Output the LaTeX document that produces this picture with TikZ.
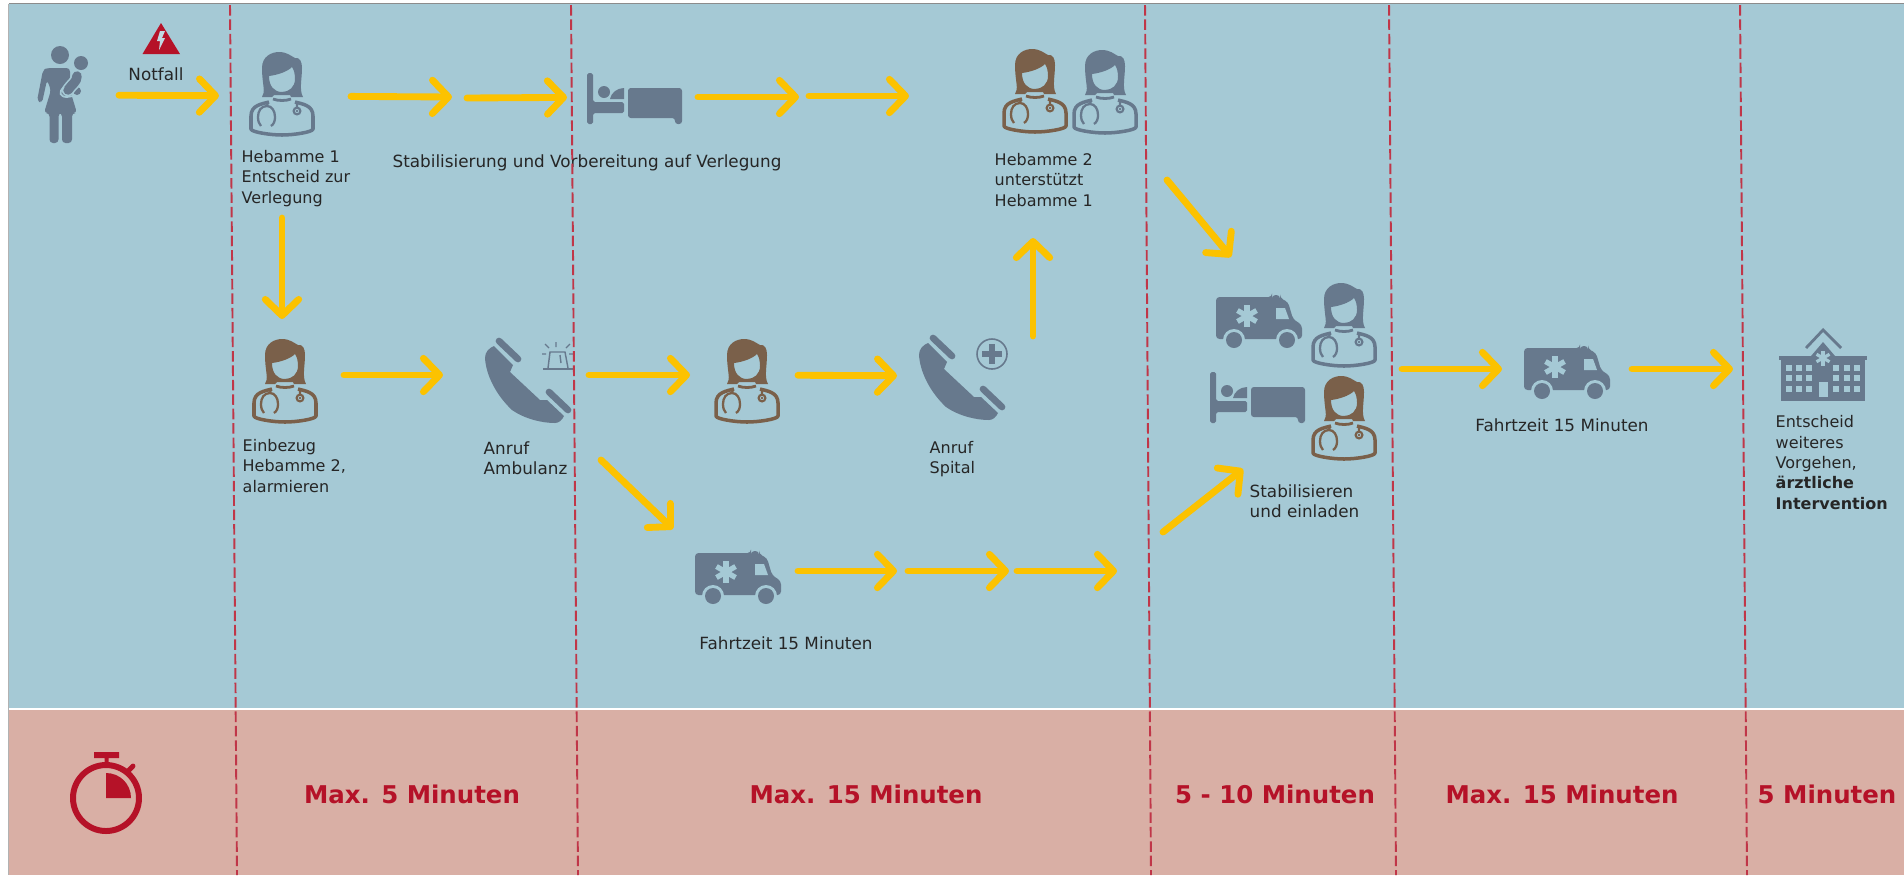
\documentclass[tikz,border=0pt]{standalone}
\usepackage{fontspec}
\setmainfont{DejaVu Sans}
\usetikzlibrary{arrows.meta}
\definecolor{panelblue}{RGB}{165,201,213}
\definecolor{panelred}{RGB}{217,175,165}
\definecolor{iconslate}{RGB}{103,121,141}
\definecolor{iconbrown}{RGB}{122,96,74}
\definecolor{flowyellow}{RGB}{252,194,0}
\definecolor{alarmred}{RGB}{181,18,40}
\tikzset{
  flow/.style={draw=flowyellow, line width=1.95pt, line cap=round, -{Straight Barb[length=4.6pt,width=9.5pt,round]}},
  phase/.style={draw=alarmred!85, line width=0.55pt, dash pattern=on 3pt off 1.1pt},
  iconbox/.style 2 args={minimum width=#1*0.01cm, minimum height=#2*0.01cm, inner sep=0pt, outer sep=0pt},
  lbl/.style={font=\fontsize{4.55}{5.8}\selectfont, align=left, inner sep=0pt, text=black!85},
  lblwide/.style={lbl, font=\fontsize{4.78}{5.8}\selectfont},
  limit/.style={font=\fontsize{6.95}{8}\selectfont\bfseries, inner sep=0pt, text=alarmred},
  pics/doctor/.style={code={
    \fill [#1, even odd rule] (-20,3) .. controls (-16,-2) and (-20,-10) .. (-20,-26)
      .. controls (-20,-38) and (-10,-42) .. (-3,-42) .. controls (5,-42) and (9,-38) .. (13,-36)
      .. controls (18,-37) and (20,-32) .. (20,-26) .. controls (20,-15) and (17,-4) .. (21,3)
      -- (9,3) -- (8,1) -- (-8,1) -- (-10,3) -- cycle
      (-13,-18) .. controls (-5,-19) and (5,-22) .. (10,-27) .. controls (12,-24) and (13,-20) .. (13,-15)
      .. controls (13,-7) and (7,-2) .. (0,-2) .. controls (-8,-2) and (-13,-8) .. (-13,-18) -- cycle;
    \draw [#1, line width=0.8pt] (-9,5) .. controls (-4,7) and (4,7) .. (9,5);
    \draw [#1, line width=1pt, line join=round] (-13,8) .. controls (-20,10) and (-31,11) .. (-31,22)
      -- (-31,35) .. controls (-31,38) and (-12,41) .. (0,41) .. controls (12,41) and (31,38) .. (31,35)
      -- (31,22) .. controls (31,11) and (20,10) .. (13,8);
    \draw [#1, line width=0.65pt] (-14,8) -- (-15,12) .. controls (-21,12) and (-24,17) .. (-24,23)
      .. controls (-24,27) and (-23,30) .. (-21,32) (-15,12) .. controls (-10,12) and (-7,17) .. (-7,23)
      .. controls (-7,27) and (-8,30) .. (-11,32) (15,7) -- (15,14);
    \draw [#1, line width=0.6pt] (15,17) circle (3.4);
    \fill [#1] (15,17) circle (1.3);
  }},
  pics/ambulance/.style={code={
    \fill [iconslate, rounded corners=1pt] (-43,-25) -- (13,-25) -- (13,-27) -- (21,-27) -- (21,-24)
      -- (29,-20) -- (34,-3) -- (43,3) -- (43,17) -- (-43,17) -- cycle;
    \foreach \w in {-25,28} {
      \fill [panelblue] (\w,18) circle (11);
      \fill [iconslate] (\w,18) circle (8);
    }
    \fill [panelblue] (17,-14) -- (26,-14) -- (30,-3) -- (17,-3) -- cycle;
    \foreach \a in {30,90,150} {
      \draw [panelblue, line width=1.5pt] (-12,-6) ++(\a:11) -- ++(\a+180:22);
    }
  }},
  pics/bed/.style={code={
    \fill [iconslate, rounded corners=0.5pt] (-47,-25) -- (-41,-25) -- (-41,4) -- (-10,4) -- (-10,15)
      -- (-41,15) -- (-41,26) -- (-47,26) -- cycle;
    \fill [iconslate] (-30,-6) circle (6);
    \fill [iconslate] (-10,-10) -- (-10,1) -- (-24,1) .. controls (-23,-5) and (-17,-10) .. (-10,-10) -- cycle;
    \fill [iconslate, rounded corners=0.8pt] (-6,-10) -- (48,-10) -- (48,26) -- (41,26) -- (41,20) -- (-6,20) -- cycle;
  }},
  pics/phone/.style={code={
    \fill [iconslate] (-33,-35) .. controls (-38,-33) and (-42,-29) .. (-42,-23) .. controls (-41,-6) and (-31,14) .. (-15,29)
      .. controls (-2,38) and (15,42) .. (28,42) .. controls (32,42) and (35,39) .. (37,35)
      -- (20,19) -- (13,19) -- (-17,-9) -- (-14,-16) -- cycle;
    \draw [iconslate, line width=1.9pt, line cap=round] (-28,-40) -- (-9,-22) (22,11) -- (41,29);
  }},
  pics/siren/.style={code={
    \draw [iconslate, line width=0.7pt] (-15,9) -- (15,9);
    \draw [iconslate, line width=0.4pt] (-10,8) -- (-8,-8) -- (7,-8) -- (10,8) (2,-5) -- (3,3);
    \draw [iconslate, line width=0.35pt] (-2,-18) -- (-2,-13) (-13,-16) -- (-9,-12) (12,-16) -- (8,-12) (-16,-6) -- (-12,-6) (15,-6) -- (11,-6);
  }},
  pics/hospital/.style={code={
    \fill [iconslate] (-42,-5) -- (42,-5) -- (42,36) -- (-42,36) -- cycle;
    \fill [iconslate] (-44,-9) -- (44,-9) -- (44,-5) -- (-44,-5) -- cycle;
    \fill [iconslate] (-12,-9) -- (0,-23) -- (12,-9) -- cycle;
    \draw [iconslate, line width=0.8pt] (-17,-17) -- (0,-35) -- (18,-17);
    \foreach \a in {30,90,150} {
      \draw [panelblue, line width=0.9pt] (0,-7) ++(\a:7.5) -- ++(\a+180:15);
    }
    \foreach \wx in {-37,-27,-17,10,21,31} {
      \foreach \wy in {0,10,21} {
        \fill [panelblue] (\wx,\wy) rectangle ++(6,6);
      }
    }
    \fill [panelblue] (-4,17) rectangle (5,32);
  }},
}
\begin{document}
\begin{tikzpicture}[x=0.01cm,y=-0.01cm]
  \useasboundingbox (0,0) rectangle (1904,875);

  % panels
  \fill [panelblue] (8.5,4) rectangle (1904,708);
  \fill [panelred] (8.5,710) rectangle (1904,875);
  \draw [black!45, line width=0.4pt] (8.5,3.5) -- (1904,3.5);
  \draw [black!30, line width=0.3pt] (8.5,4) -- (8.5,875);

  % anchors of the arrows
  \node [iconbox={98}{60}] (mother) at (70,95) {};
  \node [iconbox={132}{60}] (hebamme1) at (285,96) {};
  \node [iconbox={131}{60}] (bedtop) at (632.5,97) {};
  \node [iconbox={124}{112}] (hebamme2) at (282,375) {};
  \node [iconbox={146}{60}] (ambulanzcall) at (516,375) {};
  \node [iconbox={108}{60}] (hebamme2b) at (744,375) {};
  \node [iconbox={126}{60}] (spitalcall) at (960,376) {};
  \node [iconbox={125}{84}] (ambulance1) at (735.5,571) {};
  \node [iconbox={56}{130}] (ambulance2) at (1259,322) {};
  \node [iconbox={28}{144}] (bedright) at (1257,397) {};
  \node [iconbox={116}{60}] (crew) at (1344,369) {};
  \node [iconbox={130}{60}] (ambulance3) at (1567,369) {};
  \node [iconbox={180}{60}] (hospital) at (1823,369) {};

  % icons
  \fill [iconslate] (60,55) circle (9) (81,63) circle (7) (77,91) circle (4);
  \fill [iconslate, rounded corners=1pt] (47,68) -- (70,68) -- (70,90) -- (77,113) -- (72,113) -- (72,143) -- (62,143) -- (62,113)
    -- (58.5,113) -- (58.5,143) -- (49.5,143) -- (49.5,113) -- (44,113) -- (51,90) -- (47,80) -- (42,103) -- (37,101) -- (43,70) -- cycle;
  \draw [panelblue, line width=3.6pt, line cap=round] (77,76) .. controls (77,82) and (72,84) .. (68,90);
  \draw [iconslate, line width=2.7pt, line cap=round] (77,76) .. controls (77,82) and (72,84) .. (68,90);
  \draw [panelblue, line width=0.5pt] (64,87) .. controls (58,92) and (60,97) .. (67,97) -- (73,96);
  \fill [alarmred] (161,23) -- (180,54) -- (142.5,54) -- cycle;
  \fill [panelblue!70!white] (160,31) -- (165,31) -- (162,38) -- (165,38) -- (159,50) -- (160,41) -- (157,41) -- cycle;
  \pic at (282,94) {doctor=iconslate};
  \pic at (1035,91) {doctor=iconbrown};
  \pic at (1105,92) {doctor=iconslate};
  \pic at (285,381) {doctor=iconbrown};
  \pic at (747,381) {doctor=iconbrown};
  \pic at (1344,325) {doctor=iconslate};
  \pic at (1344,418) {doctor=iconbrown};
  \pic at (634,98) {bed};
  \pic at (1257,397) {bed};
  \pic at (527,381) {phone};
  \pic at (961,378) {phone};
  \pic at (558,360) {siren};
  \draw [iconslate, line width=0.45pt] (992,354) circle (15);
  \draw [iconslate, line width=1.8pt] (982,354) -- (1002,354) (992,344) -- (992,364);
  \pic at (738,578) {ambulance};
  \pic at (1259,322) {ambulance};
  \pic at (1567,373) {ambulance};
  \pic at (1823,365) {hospital};

  % stopwatch
  \draw [alarmred, line width=1.7pt] (106,798) circle (33);
  \fill [alarmred] (94,752) rectangle (119,758) (104.5,758) rectangle (108.5,766);
  \draw [alarmred, line width=1.4pt, line cap=round] (127,772) -- (133,766);
  \fill [alarmred] (106,798) -- (106,773) .. controls (120,773) and (131,784) .. (131,798) -- cycle;

  % texts
  \node [lblwide, anchor=center] (notfall) at (156,74) {Notfall};
  \node [lbl, anchor=west] (hebamme1txt) at (241,178.5) {Hebamme 1\\Entscheid zur\\Verlegung};
  \node [lblwide, anchor=center] (stabilisierung) at (587,163) {Stabilisierung und Vorbereitung auf Verlegung};
  \node [lbl, anchor=west] (unterstuetzt) at (994,180) {Hebamme 2\\unterstützt\\Hebamme 1};
  \node [lbl, anchor=west] (einbezug) at (242,466) {Einbezug\\Hebamme 2,\\alarmieren};
  \node [lblwide, anchor=west] (anrufamb) at (483,458.5) {Anruf\\Ambulanz};
  \node [lbl, anchor=west] (anrufsp) at (929,459) {Anruf\\Spital};
  \node [lblwide, anchor=center] (fahrt1) at (786,643) {Fahrtzeit 15 Minuten};
  \node [lblwide, anchor=west] (einladen) at (1249,501.5) {Stabilisieren\\und einladen};
  \node [lblwide, anchor=center] (fahrt2) at (1562,425) {Fahrtzeit 15 Minuten};
  \node [lbl, anchor=west] (entscheid) at (1775,462.5) {Entscheid\\weiteres\\Vorgehen,\\\textbf{ärztliche}\\\textbf{Intervention}};
  \node [limit] (limit1) at (412,794) {Max. 5 Minuten};
  \node [limit] (limit2) at (866,794) {Max. 15 Minuten};
  \node [limit] (limit3) at (1275,794) {5 - 10 Minuten};
  \node [limit] (limit4) at (1562,794) {Max. 15 Minuten};
  \node [limit] (limit5) at (1827,794) {5 Minuten};

  % free ends
  \coordinate (top1) at (452,97);
  \coordinate (top2) at (467,98);
  \coordinate (top3) at (799,97);
  \coordinate (top4) at (809,96);
  \coordinate (top5) at (909,96);
  \coordinate (down1) at (282,218);
  \coordinate (up1) at (1033,336);
  \coordinate (up2) at (1033,238);
  \coordinate (diag1) at (1167,180);
  \coordinate (diag2) at (601,460);
  \coordinate (diag3) at (1163,532);
  \coordinate (low1) at (897,571);
  \coordinate (low2) at (908,571);
  \coordinate (low3) at (1009,571);
  \coordinate (low4) at (1017,571);
  \coordinate (low5) at (1117,571);

  % arrows
  \draw [flow] (mother) -- (hebamme1);
  \draw [flow] (hebamme1) -- (top1);
  \draw [flow] (top2) -- (bedtop);
  \draw [flow] (bedtop) -- (top3);
  \draw [flow] (top4) -- (top5);
  \draw [flow] (down1) -- (hebamme2);
  \draw [flow] (hebamme2) -- (ambulanzcall);
  \draw [flow] (ambulanzcall) -- (hebamme2b);
  \draw [flow] (hebamme2b) -- (spitalcall);
  \draw [flow] (up1) -- (up2);
  \draw [flow] (diag1) -- (ambulance2.north west);
  \draw [flow] (diag2) -- (ambulance1.north west);
  \draw [flow] (ambulance1.east) -- (low1);
  \draw [flow] (low2) -- (low3);
  \draw [flow] (low4) -- (low5);
  \draw [flow] (diag3) -- (bedright.south west);
  \draw [flow] (crew) -- (ambulance3);
  \draw [flow] (ambulance3) -- (hospital);

  % phase borders
  \foreach \a/\b in {230/237,571/578,1145/1151,1389/1396,1740/1747} {
    \draw [phase] (\a,5) -- (\b,875);
  }
\end{tikzpicture}
\end{document}
